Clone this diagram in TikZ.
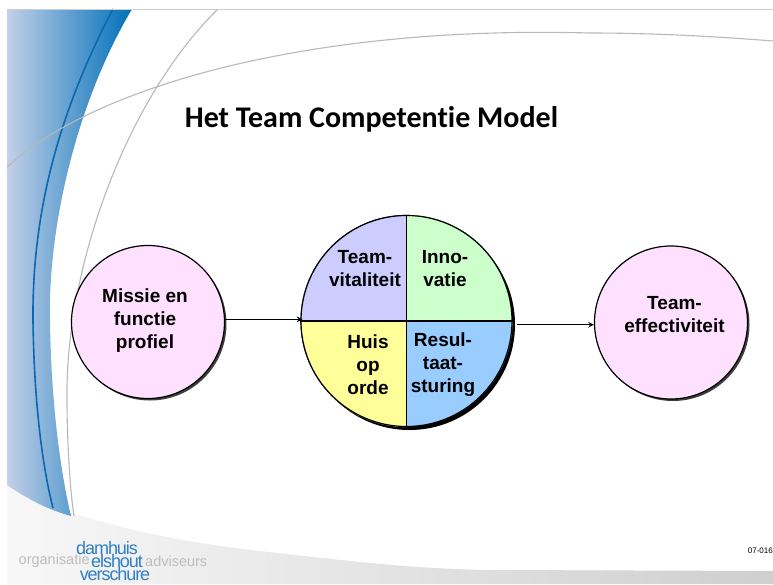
\documentclass[tikz,border=0pt]{standalone}
\usepackage{fontspec}
\setmainfont{Liberation Sans}
\newfontfamily\titlefont[Ligatures=NoCommon]{Carlito}
\newfontfamily\logofont[LetterSpace=-6]{Liberation Sans}
\usetikzlibrary{shadows}
\definecolor{bandLeft}{HTML}{C3D0E8}
\definecolor{bandMid}{HTML}{84A3D2}
\definecolor{bandRight}{HTML}{0070B8}
\definecolor{bandLine}{HTML}{0A68B0}
\definecolor{arcGray}{HTML}{B8B8B8}
\definecolor{logoBlue}{HTML}{2F80C4}
\definecolor{logoGray}{HTML}{BDBDBD}
\definecolor{circlePink}{HTML}{FFE1FF}
\definecolor{quadViolet}{HTML}{CCCCFF}
\definecolor{quadGreen}{HTML}{CCFFCC}
\definecolor{quadYellow}{HTML}{FFFF99}
\definecolor{quadBlue}{HTML}{99CCFF}
\tikzset{
  sidecircle/.style={circle, draw, line width=1.2pt, fill=circlePink, minimum size=153pt, inner sep=0pt, drop shadow={shadow xshift=2pt, shadow yshift=-2pt, fill=black!75, opacity=1}},
  modelcircle/.style={circle, draw, line width=1.2pt, minimum size=211pt, inner sep=0pt, drop shadow={shadow xshift=3pt, shadow yshift=-3.5pt, fill=black, opacity=1}},
  bodytext/.style={font=\fontsize{19}{23}\selectfont\bfseries, align=center, inner sep=0pt},
  logoblue/.style={font=\fontsize{18}{18}\logofont, text=logoBlue, inner sep=0pt},
  logogray/.style={font=\fontsize{14.5}{15}\selectfont, text=logoGray, inner sep=0pt},
  arcline/.style={draw=arcGray, line width=1.1pt}
}
\begin{document}
\begin{tikzpicture}[>=stealth, x=1pt, y=-1pt]
\useasboundingbox (0,0) rectangle (773,584);
% background
\shade [left color=black!3, right color=black!19] (7,584) -- (7,485) .. controls (60,516) and (160,540) .. (260,551) .. controls (340,560) and (420,570) .. (500,570) -- (773,571) -- (773,584) -- cycle;
\shade [left color=bandLeft, middle color=bandMid, right color=bandRight] (7,9) -- (132,9) .. controls (75,105) and (48,230) .. (50,320) .. controls (51,400) and (60,470) .. (71,516) .. controls (45,509) and (25,497) .. (7,485) -- cycle;
\draw [bandLine, line width=1.6pt] (113,9) .. controls (60,110) and (32,210) .. (33,320) .. controls (34,400) and (42,465) .. (53,508);
\draw [arcline] (218,9) .. controls (125,100) and (65,270) .. (67,400) .. controls (67,440) and (70,490) .. (74,516);
\draw [arcline] (7,167) .. controls (90,90) and (300,25) .. (590,33) .. controls (650,33) and (710,36) .. (773,41);
\draw [black!20] (7,9) -- (773,9);
% title
\node (title) at (371.5,119.5) {\titlefont\fontsize{30}{32}\selectfont\bfseries Het Team Competentie Model};
% circles
\node [sidecircle] (missie) at (148,322) {};
\node [sidecircle] (effect) at (671,322.5) {};
\node [modelcircle] (model) at (406.5,321) {};
\fill [quadViolet] (model.center) -- (model.west) arc [start angle=180, end angle=90, radius=105.5pt] -- cycle;
\fill [quadGreen] (model.center) -- (model.north) arc [start angle=90, end angle=0, radius=105.5pt] -- cycle;
\fill [quadYellow] (model.center) -- (model.south) arc [start angle=270, end angle=180, radius=105.5pt] -- cycle;
\fill [quadBlue] (model.center) -- (model.east) arc [start angle=0, end angle=-90, radius=105.5pt] -- cycle;
\draw [line width=1.2pt] (model.center) circle [radius=105.5pt];
\draw [line width=1.2pt] (model.north) -- (model.south);
\draw [line width=1.2pt] (model.west) -- (model.east);
% arrows
\draw [->, line width=1.5pt, shorten >=-2pt] (missie.2) -- (missie.2 -| model.west);
\draw [->, line width=1.5pt, shorten <=4pt] (model.-2) -- (model.-2 -| effect.west);
% labels
\node [bodytext] (missietext) at (145,320.5) {Missie en\\functie\\profiel};
\node [bodytext] (effecttext) at (674.5,315) {Team-\\effectiviteit};
\node [bodytext] (vitaltext) at (365,269) {Team-\\vitaliteit};
\node [bodytext] (innotext) at (445,269) {Inno-\\vatie};
\node [bodytext] (huistext) at (368,365) {Huis\\op\\orde};
\node [bodytext] (resultext) at (443,365) {Resul-\\taat-\\sturing};
\node [font=\fontsize{8}{9}\selectfont, inner sep=0pt, anchor=east] (code) at (773,551) {07-016};
% logo
\node [logogray, anchor=west] (orgtext) at (18.5,561) {organisatie};
\node [logogray, anchor=west] (advtext) at (145,561) {adviseurs};
\node [logoblue] (damtext) at (107,548) {damhuis};
\node [logoblue] (elstext) at (117,561) {elshout};
\node [logoblue] (vertext) at (115,574) {verschure};
\end{tikzpicture}
\end{document}
